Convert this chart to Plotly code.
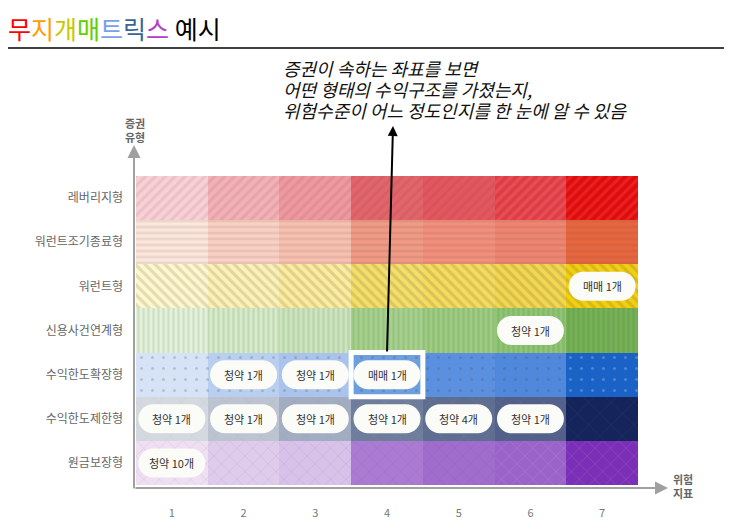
import plotly.graph_objects as go

# grid data
risk_levels = [1, 2, 3, 4, 5, 6, 7]
security_types = ["원금보장형", "수익한도제한형", "수익한도확장형", "신용사건연계형",
                  "워런트형", "워런트조기종료형", "레버리지형"]
cell_height = [1, 1, 1, 1, 1, 1, 1]

# pills: (risk level, security type, text)
pill_cols = [7, 6, 2, 3, 4, 1, 2, 3, 4, 5, 6, 1]
pill_rows = ["워런트형", "신용사건연계형", "수익한도확장형", "수익한도확장형", "수익한도확장형",
             "수익한도제한형", "수익한도제한형", "수익한도제한형", "수익한도제한형",
             "수익한도제한형", "수익한도제한형", "원금보장형"]
pill_texts = ["매매 1개", "청약 1개", "청약 1개", "청약 1개", "매매 1개",
              "청약 1개", "청약 1개", "청약 1개", "청약 1개", "청약 4개", "청약 1개",
              "청약 10개"]

highlight = (4, "수익한도확장형")

title_chars = ["무", "지", "개", "매", "트", "릭", "스", " 예시"]
note_lines = ["증권이 속하는 좌표를 보면",
              "어떤 형태의 수익구조를 가졌는지,",
              "위험수준이 어느 정도인지를 한 눈에 알 수 있음"]

# styles
title_colors = ["#ff0000", "#ff9a00", "#c8c800", "#5fd000", "#7aa0e8", "#3a6494", "#b43cc8", "#000000"]
row_colors = {
    "레버리지형": ["#fbd0d5", "#f5b0b5", "#f0989e", "#e4646a", "#e6565e", "#e13c44", "#e20a0a"],
    "워런트조기종료형": ["#fde6dc", "#fbd0c4", "#f8c0b0", "#f19a84", "#f38f7a", "#ef8570", "#e8663e"],
    "워런트형": ["#fff8cc", "#fdf2b5", "#fcec9c", "#f6df68", "#f6dc5c", "#f3d74e", "#f2cf10"],
    "신용사건연계형": ["#e2f3da", "#d5ecc8", "#cbe6bd", "#a5d28b", "#9ccd80", "#8fc672", "#74b253"],
    "수익한도확장형": ["#d6e3f6", "#b8cfef", "#a9c3ec", "#6b9fdd", "#5b90e0", "#5088dc", "#1b62c6"],
    "수익한도제한형": ["#d4d9e0", "#bcc3d1", "#a3adc2", "#6f7d9c", "#5f6d90", "#52608a", "#15245a"],
    "원금보장형": ["#efdff3", "#dfccec", "#d8c2ea", "#ab7ad2", "#a06ccd", "#9a63c9", "#7b2fb7"],
}
row_patterns = {
    "레버리지형": dict(shape="/", fgcolor="#9a0000", fgopacity=0.1, size=7, solidity=0.45),
    "워런트조기종료형": dict(shape="-", fgcolor="#b04020", fgopacity=0.1, size=6, solidity=0.45),
    "워런트형": dict(shape="\\", fgcolor="#c09000", fgopacity=0.16, size=7, solidity=0.45),
    "신용사건연계형": dict(shape="|", fgcolor="#3a8a20", fgopacity=0.12, size=5, solidity=0.45),
    "수익한도확장형": dict(shape=".", fgcolor="#ffffff", fgopacity=0.22, size=11, solidity=0.06),
    "수익한도제한형": dict(shape="x", fgcolor="#ffffff", fgopacity=0.1, size=16, solidity=0.05),
    "원금보장형": dict(shape="x", fgcolor="#ffffff", fgopacity=0.2, size=11, solidity=0.08),
}

# page body has an 8px margin, so the figure is 8px smaller and all pixel spots shift by 8
OFF = 8
W, H = 732 - OFF, 532 - OFF
L, T = 136 - OFF, 176 - OFF
R, B = W - (638 - OFF), H - (485 - OFF)
pw, ph = W - L - R, H - T - B
FONT = "Noto Sans CJK KR"


def px2x(px):
    return (px - OFF - L) / pw


def px2y(py):
    return (H - B - (py - OFF)) / ph


fig = go.Figure()
for i, name in enumerate(security_types):
    fig.add_trace(go.Bar(
        x=risk_levels, y=cell_height,
        base=[i - 0.5] * len(risk_levels), width=1,
        marker=dict(color=row_colors[name], line=dict(width=0),
                    pattern=dict(fillmode="overlay", **row_patterns[name])),
        hoverinfo="skip", showlegend=False))

# white frame around highlighted cell
hc, hr = highlight
hi = security_types.index(hr)
fig.add_shape(type="rect", xref="x", yref="y", x0=hc - 0.5, x1=hc + 0.5, y0=hi - 0.5, y1=hi + 0.5,
              line=dict(color="white", width=5), layer="above")

# pills
pill_path = ("M -19,-14.5 L 19,-14.5 C 27,-14.5 33.5,-8 33.5,0 C 33.5,8 27,14.5 19,14.5 "
             "L -19,14.5 C -27,14.5 -33.5,8 -33.5,0 C -33.5,-8 -27,-14.5 -19,-14.5 Z")
for c, r, t in zip(pill_cols, pill_rows, pill_texts):
    ri = security_types.index(r)
    fig.add_shape(type="path", xref="x", yref="y", xsizemode="pixel", ysizemode="pixel",
                  xanchor=c, yanchor=ri, path=pill_path, fillcolor="#fbfbf7",
                  line=dict(width=0), layer="above")
    fig.add_annotation(x=c, y=ri, text=t, showarrow=False,
                       font=dict(family=FONT, size=11, color="#333333"))

# title
title_html = "".join(f"<span style='color:{col}'>{ch}</span>" for ch, col in zip(title_chars, title_colors))
fig.add_annotation(xref="paper", yref="paper", x=px2x(7), y=px2y(OFF + 1), xanchor="left", yanchor="top",
                   borderpad=0, text=title_html, showarrow=False, font=dict(family=FONT, size=25))
fig.add_shape(type="line", xref="paper", yref="paper", x0=px2x(OFF), x1=px2x(732), y0=px2y(48), y1=px2y(48),
              line=dict(color="#000000", width=1.5))

# note and arrow
for line, py in zip(note_lines, [68, 89, 110]):
    fig.add_annotation(xref="paper", yref="paper", x=px2x(282), y=px2y(py), xanchor="left", yanchor="middle",
                       borderpad=0, text="<i>" + line + "</i>", showarrow=False,
                       font=dict(family=FONT, size=18, color="#111111"))
fig.add_annotation(xref="paper", yref="paper", x=px2x(393), y=px2y(126), ax=-6, ay=227, text="",
                   showarrow=True, arrowhead=2, arrowsize=1, arrowwidth=2, arrowcolor="#000000", standoff=0)

# axis arrows
fig.add_annotation(xref="paper", yref="paper", x=px2x(134), y=px2y(145), ax=0, ay=345, text="",
                   showarrow=True, arrowhead=2, arrowsize=1.3, arrowwidth=2, arrowcolor="#a0a0a0", standoff=0)
fig.add_annotation(xref="paper", yref="paper", x=px2x(668), y=px2y(488), ax=-534, ay=0, text="",
                   showarrow=True, arrowhead=2, arrowsize=1.3, arrowwidth=2, arrowcolor="#a0a0a0", standoff=0)
fig.add_annotation(xref="paper", yref="paper", x=px2x(135), y=px2y(130), xanchor="center", yanchor="middle",
                   text="<b>증권<br>유형</b>", showarrow=False, font=dict(family=FONT, size=11, color="#666666"))
fig.add_annotation(xref="paper", yref="paper", x=px2x(683), y=px2y(486), xanchor="center", yanchor="middle",
                   text="<b>위험<br>지표</b>", showarrow=False, font=dict(family=FONT, size=11, color="#666666"))

fig.update_layout(
    width=W, height=H, margin=dict(l=L, r=R, t=T, b=B),
    paper_bgcolor="white", plot_bgcolor="white",
    barmode="overlay", bargap=0,
    xaxis=dict(range=[0.5, 7.5], tickvals=risk_levels, showgrid=False, zeroline=False, showline=False,
               ticklabelstandoff=20, tickfont=dict(family=FONT, size=11, color="#777777"), fixedrange=True),
    yaxis=dict(range=[-0.5, 6.5], tickvals=list(range(len(security_types))), ticktext=security_types,
               showgrid=False, zeroline=False, showline=False, ticklabelstandoff=12,
               tickfont=dict(family=FONT, size=12, color="#666666"), fixedrange=True),
)

fig.write_html("out.html")
